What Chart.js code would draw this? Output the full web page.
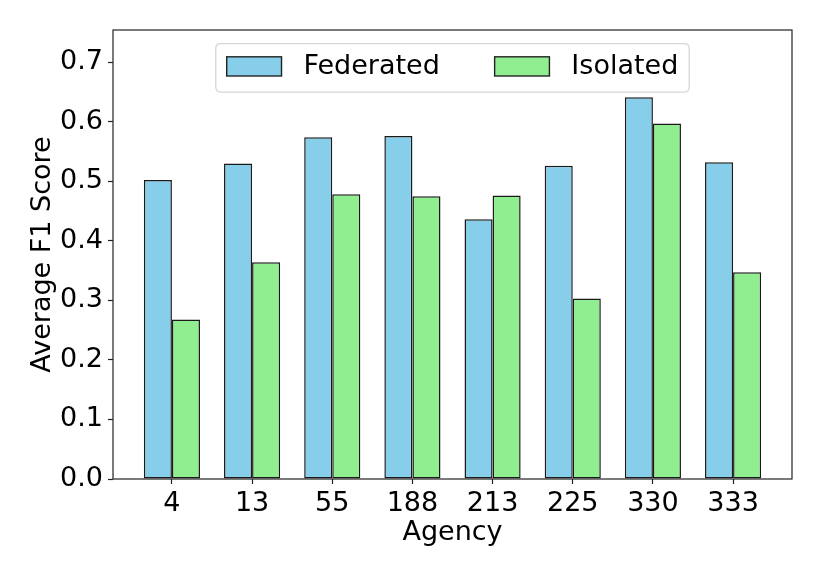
<!DOCTYPE html>
<html><head><meta charset="utf-8">
<script src="https://cdn.jsdelivr.net/npm/chart.js@4"></script>
<style>html,body{margin:0;padding:0;background:#fff}#wrap{width:822px;height:576px}</style>
</head><body><div id="wrap"><canvas id="c" width="822" height="576"></canvas></div>
<script>
const agencies = ['4', '13', '55', '188', '213', '225', '330', '333'];
const federated = [0.502, 0.530, 0.574, 0.576, 0.436, 0.526, 0.641, 0.532];
const isolated = [0.268, 0.364, 0.478, 0.475, 0.476, 0.303, 0.597, 0.347];
const yTickValues = [0.0, 0.1, 0.2, 0.3, 0.4, 0.5, 0.6, 0.7];
const seriesNames = ['Federated', 'Isolated'];
const seriesColors = ['#87CEEB', '#90EE90'];
const yMax = 0.754;
const xMin = -0.735, xMax = 7.735;

const FONT = "'DejaVu Sans', sans-serif";
Chart.defaults.font.family = FONT;
Chart.defaults.color = '#000';

const spinePlugin = {
  id: 'spines',
  afterDatasetsDraw(chart) {
    const {ctx, chartArea: a} = chart;
    ctx.save();
    ctx.strokeStyle = '#222';
    ctx.lineWidth = 1.2;
    ctx.strokeRect(a.left, a.top, a.right - a.left, a.bottom - a.top);
    ctx.restore();
  }
};

const legendPlugin = {
  id: 'mplLegend',
  afterDraw(chart) {
    const {ctx, chartArea: a} = chart;
    const fs = 27, u = 27.4;
    ctx.save();
    ctx.font = fs + 'px ' + FONT;
    const widths = seriesNames.map(n => ctx.measureText(n).width);
    const handleW = 2 * u, handleH = 0.7 * u, textPad = 0.8 * u, colSp = 2 * u, bpad = 0.4 * u;
    let total = 2 * bpad;
    widths.forEach((w, i) => { total += handleW + textPad + w + (i > 0 ? colSp : 0); });
    const boxH = 48.4;
    const cx = (a.left + a.right) / 2;
    const x0 = cx - total / 2;
    const y0 = a.top + 0.5 * u;
    const r = 5;
    ctx.beginPath();
    ctx.moveTo(x0 + r, y0);
    ctx.lineTo(x0 + total - r, y0);
    ctx.quadraticCurveTo(x0 + total, y0, x0 + total, y0 + r);
    ctx.lineTo(x0 + total, y0 + boxH - r);
    ctx.quadraticCurveTo(x0 + total, y0 + boxH, x0 + total - r, y0 + boxH);
    ctx.lineTo(x0 + r, y0 + boxH);
    ctx.quadraticCurveTo(x0, y0 + boxH, x0, y0 + boxH - r);
    ctx.lineTo(x0, y0 + r);
    ctx.quadraticCurveTo(x0, y0, x0 + r, y0);
    ctx.closePath();
    ctx.fillStyle = 'rgba(255,255,255,0.8)';
    ctx.fill();
    ctx.strokeStyle = '#d6d6d6';
    ctx.lineWidth = 1.3;
    ctx.stroke();
    const cy = y0 + boxH / 2 - 1.5;
    let x = x0 + bpad;
    seriesNames.forEach((n, i) => {
      if (i > 0) x += colSp;
      ctx.fillStyle = seriesColors[i];
      ctx.fillRect(x, cy - handleH / 2, handleW, handleH);
      ctx.strokeStyle = '#222';
      ctx.lineWidth = 1.4;
      ctx.strokeRect(x, cy - handleH / 2, handleW, handleH);
      x += handleW + textPad;
      ctx.fillStyle = '#000';
      ctx.textBaseline = 'middle';
      ctx.textAlign = 'left';
      ctx.fillText(n, x, cy + 1);
      x += widths[i];
    });
    ctx.restore();
  }
};

const makeData = vals => vals.map((v, i) => ({x: i, y: v}));

new Chart(document.getElementById('c'), {
  type: 'bar',
  data: {
    datasets: [
      {label: seriesNames[0], data: makeData(federated), backgroundColor: seriesColors[0],
       borderColor: '#1a1a1a', borderWidth: 1.5, borderSkipped: false,
       categoryPercentage: 0.7, barPercentage: 1.0},
      {label: seriesNames[1], data: makeData(isolated), backgroundColor: seriesColors[1],
       borderColor: '#1a1a1a', borderWidth: 1.5, borderSkipped: false,
       categoryPercentage: 0.7, barPercentage: 1.0}
    ]
  },
  options: {
    responsive: false,
    animation: false,
    events: [],
    layout: {padding: {left: 0, right: 30, top: 30, bottom: 0}},
    plugins: {legend: {display: false}, tooltip: {enabled: false}},
    scales: {
      x: {
        type: 'linear', min: xMin, max: xMax, offset: false,
        afterBuildTicks: s => { s.ticks = agencies.map((c, i) => ({value: i})); },
        afterFit: s => { s.height = 97; },
        ticks: {font: {size: 27}, padding: 4, maxRotation: 0, autoSkip: false,
                callback: v => agencies[v]},
        grid: {offset: false, drawOnChartArea: false, drawTicks: true, tickLength: 5, tickColor: '#222', tickWidth: 1.2},
        border: {display: false},
        title: {display: true, text: 'Agency', font: {size: 27}, padding: {top: 0, bottom: 27}}
      },
      y: {
        min: 0, max: yMax,
        afterBuildTicks: s => { s.ticks = yTickValues.map(v => ({value: v})); },
        afterFit: s => { s.width = 113; },
        ticks: {font: {size: 27}, padding: 5, callback: v => v.toFixed(1)},
        grid: {offset: false, drawOnChartArea: false, drawTicks: true, tickLength: 5, tickColor: '#222', tickWidth: 1.2},
        border: {display: false},
        title: {display: true, text: 'Average F1 Score', font: {size: 27}, padding: {top: 27, bottom: 0}}
      }
    }
  },
  plugins: [spinePlugin, legendPlugin]
});
</script></body></html>
